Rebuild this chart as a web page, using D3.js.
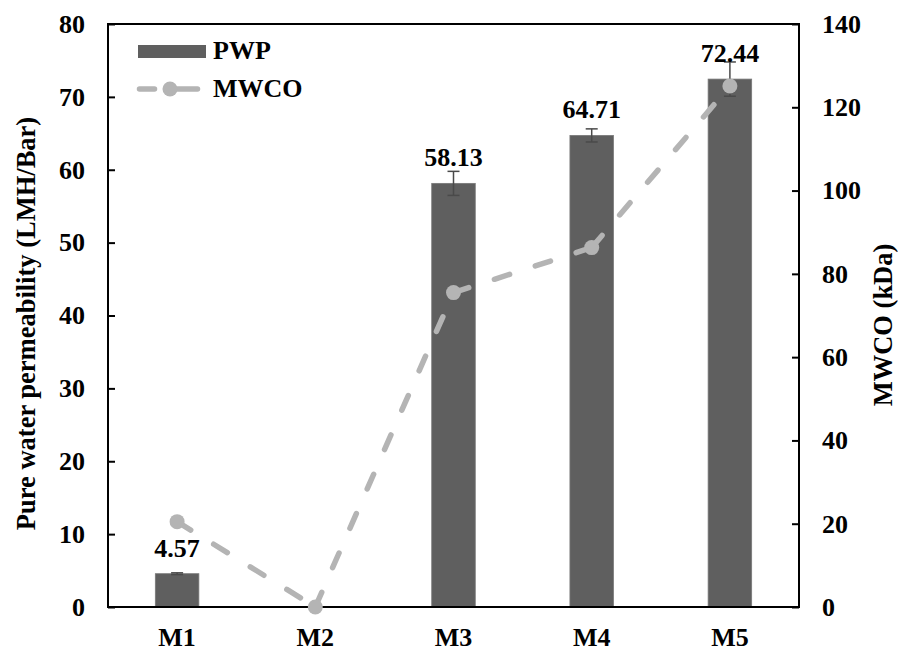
<!DOCTYPE html>
<html>
<head>
<meta charset="utf-8">
<script src="https://cdn.jsdelivr.net/npm/d3@7"></script>
<style>
  html, body { margin: 0; padding: 0; background: #fff; }
</style>
</head>
<body>
<svg id="chart" width="898" height="651"></svg>
<script>
// Membranes and measurements
const membranes = ["M1", "M2", "M3", "M4", "M5"];
const pwp = [4.57, null, 58.13, 64.71, 72.44];        // LMH/Bar
const pwpError = [0.12, null, 1.65, 0.9, 2.35];
const mwco = [20.5, 0, 75.5, 86.3, 125.1];            // kDa
const leftTicks = [0, 10, 20, 30, 40, 50, 60, 70, 80];
const rightTicks = [0, 20, 40, 60, 80, 100, 120, 140];

const FONT = "Liberation Serif";
const FS = 26;
const W = 898, H = 651;
const x0 = 108, x1 = 799, y0 = 607, y1 = 24;
const svg = d3.select("#chart");

const x = d3.scaleBand().domain(membranes).range([x0, x1]).paddingInner(0.685).paddingOuter(0.3425);
const yL = d3.scaleLinear().domain([0, 80]).range([y0, y1]);
const yR = d3.scaleLinear().domain([0, 140]).range([y0, y1]);
const cx = m => x(m) + x.bandwidth() / 2;

const barColor = "#5f5f5f";
const lineColor = "#b4b4b4";

function label(sel) {
  return sel.attr("font-family", FONT).attr("font-weight", "bold").attr("fill", "#000");
}

// Bars
const barData = membranes.map((m, i) => ({ m, v: pwp[i], e: pwpError[i] })).filter(d => d.v != null);
svg.append("g").selectAll("rect").data(barData).join("rect")
  .attr("x", d => x(d.m)).attr("width", x.bandwidth())
  .attr("y", d => yL(d.v)).attr("height", d => yL(0) - yL(d.v))
  .attr("fill", barColor).attr("stroke", "#787878").attr("stroke-width", 0.8);

// Error bars
const eg = svg.append("g").attr("stroke", "#4a4a4a").attr("stroke-width", 1.5);
barData.forEach(d => {
  const c = cx(d.m);
  eg.append("line").attr("x1", c).attr("x2", c).attr("y1", yL(d.v - d.e)).attr("y2", yL(d.v + d.e));
  [d.v + d.e, d.v - d.e].forEach(v =>
    eg.append("line").attr("x1", c - 6).attr("x2", c + 6).attr("y1", yL(v)).attr("y2", yL(v)));
});

// Value labels above bars
label(svg.append("g").selectAll("text").data(barData).join("text"))
  .attr("x", d => cx(d.m))
  .attr("y", d => yL(d.v) - 17)
  .attr("text-anchor", "middle").attr("font-size", FS)
  .text(d => d.v.toFixed(2));

// Plot frame
svg.append("rect").attr("x", x0).attr("y", y1).attr("width", x1 - x0).attr("height", y0 - y1)
  .attr("fill", "none").attr("stroke", "#000").attr("stroke-width", 2);

// Left axis
const leftAxis = svg.append("g").attr("transform", `translate(${x0},0)`)
  .call(d3.axisLeft(yL).tickValues(leftTicks).tickSize(-7).tickPadding(23));
leftAxis.select(".domain").remove();
leftAxis.selectAll("line").attr("stroke", "#000").attr("stroke-width", 2);
label(leftAxis.selectAll("text")).attr("font-size", FS);

// Right axis
const rightAxis = svg.append("g").attr("transform", `translate(${x1},0)`)
  .call(d3.axisRight(yR).tickValues(rightTicks).tickSize(-7).tickPadding(23));
rightAxis.select(".domain").remove();
rightAxis.selectAll("line").attr("stroke", "#000").attr("stroke-width", 2);
label(rightAxis.selectAll("text")).attr("font-size", FS);

// Bottom axis (category names)
const bottomAxis = svg.append("g").attr("transform", `translate(0,${y0})`)
  .call(d3.axisBottom(x).tickSize(0).tickPadding(21));
bottomAxis.select(".domain").remove();
label(bottomAxis.selectAll("text")).attr("font-size", FS);

// MWCO dashed line, pattern restarts at each point
const pts = membranes.map((m, i) => ({ m, v: mwco[i] }));
const line = d3.line().x(d => cx(d.m)).y(d => yR(d.v));
d3.pairs(pts).forEach(seg => {
  svg.append("path").datum(seg).attr("d", line)
    .attr("fill", "none").attr("stroke", lineColor).attr("stroke-width", 5.5)
    .attr("stroke-linecap", "round").attr("stroke-dasharray", "16,27");
});
svg.append("g").selectAll("circle").data(pts).join("circle")
  .attr("cx", d => cx(d.m)).attr("cy", d => yR(d.v))
  .attr("r", 7.5).attr("fill", lineColor);

// Axis titles
label(svg.append("text")).attr("transform", "translate(35,323.5) rotate(-90)")
  .attr("text-anchor", "middle").attr("font-size", 26.5)
  .text("Pure water permeability (LMH/Bar)");
label(svg.append("text")).attr("transform", "translate(892,325) rotate(-90)")
  .attr("text-anchor", "middle").attr("font-size", 26.5)
  .text("MWCO (kDa)");

// Legend
const lg = svg.append("g");
lg.append("rect").attr("x", 138).attr("y", 45).attr("width", 68).attr("height", 13).attr("fill", barColor);
label(lg.append("text")).attr("x", 213).attr("y", 59).attr("font-size", FS).text("PWP");
[[139.5, 154.5], [168, 197.5]].forEach(([a, b]) =>
  lg.append("line").attr("x1", a).attr("x2", b).attr("y1", 89).attr("y2", 89)
    .attr("stroke", lineColor).attr("stroke-width", 5.5).attr("stroke-linecap", "round"));
lg.append("circle").attr("cx", 170).attr("cy", 89).attr("r", 7.5).attr("fill", lineColor);
label(lg.append("text")).attr("x", 213).attr("y", 97).attr("font-size", FS).text("MWCO");
</script>
</body>
</html>
